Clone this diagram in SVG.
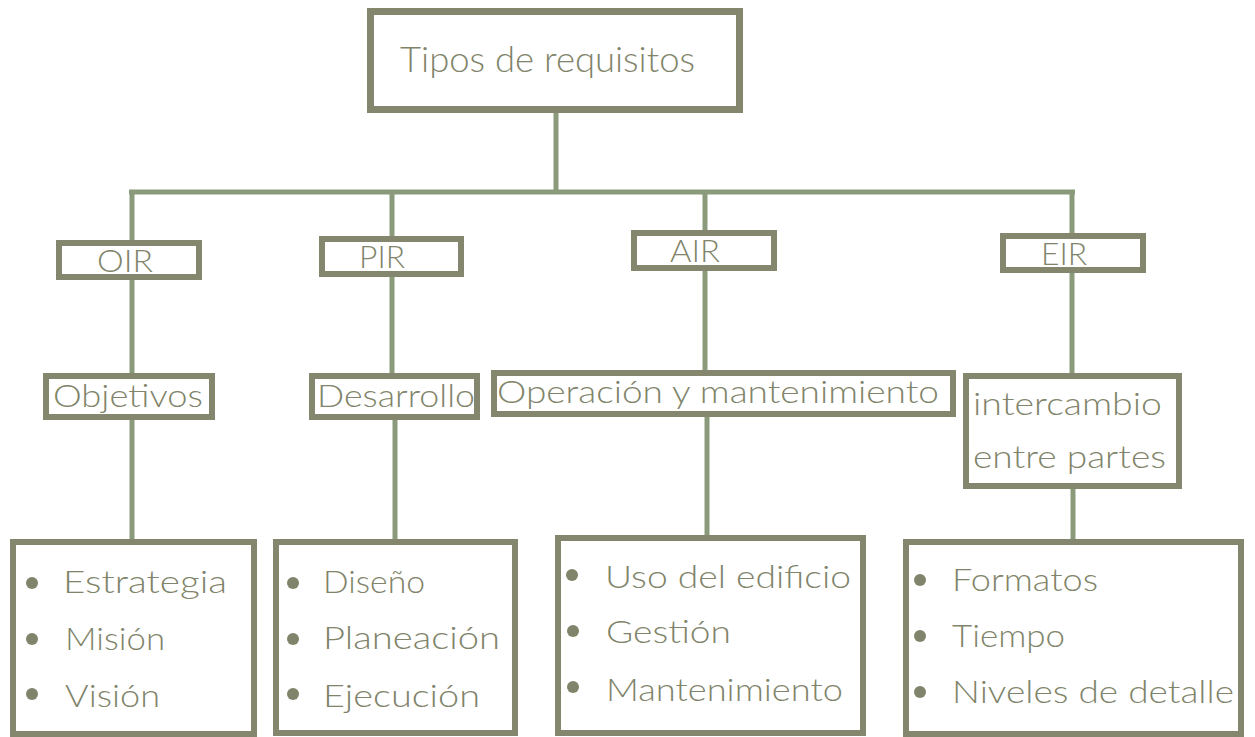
<svg xmlns="http://www.w3.org/2000/svg" width="1255" height="737" viewBox="0 0 1255 737">
<style>
.box{fill:#ffffff;stroke:#84876d;stroke-width:6}
.conn{stroke:#8a9a7b;stroke-width:5;fill:none}
.t{font-family:Lato,"Open Sans","Liberation Sans",sans-serif;font-weight:300;fill:#7f846a;font-size:32px}
.b{fill:#7f846a}
</style>
<rect width="1255" height="737" fill="#ffffff"/>
<g id="connectors">
<line class="conn" x1="556" y1="113" x2="556" y2="192"/>
<line class="conn" x1="129" y1="192" x2="1075" y2="192"/>
<line class="conn" x1="132" y1="190" x2="132" y2="240"/>
<line class="conn" x1="392" y1="190" x2="392" y2="236"/>
<line class="conn" x1="705" y1="190" x2="705" y2="230"/>
<line class="conn" x1="1072" y1="190" x2="1072" y2="233"/>
<line class="conn" x1="132" y1="280" x2="132" y2="373"/>
<line class="conn" x1="392" y1="277" x2="392" y2="373"/>
<line class="conn" x1="705" y1="271" x2="705" y2="370"/>
<line class="conn" x1="1072" y1="273" x2="1072" y2="373"/>
<line class="conn" x1="132" y1="420" x2="132" y2="539"/>
<line class="conn" x1="395" y1="420" x2="395" y2="539"/>
<line class="conn" x1="707" y1="417" x2="707" y2="535"/>
<line class="conn" x1="1073" y1="489" x2="1073" y2="539"/>
</g>
<g id="root">
<rect class="box" x="370.5" y="11.5" width="369" height="98" style="stroke-width:7"/>
<text class="t" x="400" y="72" style="font-size:35px" textLength="295" lengthAdjust="spacingAndGlyphs">Tipos de requisitos</text>
</g>
<g id="oir">
<rect class="box" x="59" y="243" width="140" height="34"/>
<text class="t" x="97" y="272" textLength="56" lengthAdjust="spacingAndGlyphs">OIR</text>
</g>
<g id="pir">
<rect class="box" x="322" y="239" width="139" height="35"/>
<text class="t" x="359" y="268" textLength="46" lengthAdjust="spacingAndGlyphs">PIR</text>
</g>
<g id="air">
<rect class="box" x="634" y="233" width="140" height="35"/>
<text class="t" x="670" y="262" textLength="50" lengthAdjust="spacingAndGlyphs">AIR</text>
</g>
<g id="eir">
<rect class="box" x="1003" y="236" width="140" height="34"/>
<text class="t" x="1041" y="265" textLength="46" lengthAdjust="spacingAndGlyphs">EIR</text>
</g>
<g id="objetivos">
<rect class="box" x="46" y="376" width="166" height="41"/>
<text class="t" x="53" y="407" textLength="150" lengthAdjust="spacingAndGlyphs">Objetivos</text>
</g>
<g id="desarrollo">
<rect class="box" x="312" y="376" width="165" height="41"/>
<text class="t" x="317" y="407" textLength="158" lengthAdjust="spacingAndGlyphs">Desarrollo</text>
</g>
<g id="operacion">
<rect class="box" x="494" y="373" width="459" height="41"/>
<text class="t" x="497" y="403" textLength="442" lengthAdjust="spacingAndGlyphs">Operación y mantenimiento</text>
</g>
<g id="intercambio">
<rect class="box" x="966" y="376" width="213" height="110"/>
<text class="t" x="973" y="415" textLength="189" lengthAdjust="spacingAndGlyphs">intercambio</text>
<text class="t" x="973" y="468" textLength="193" lengthAdjust="spacingAndGlyphs">entre partes</text>
</g>
<g id="list-oir">
<rect class="box" x="13" y="542" width="241" height="192"/>
<circle class="b" cx="32" cy="583" r="6"/>
<circle class="b" cx="32" cy="639" r="6"/>
<circle class="b" cx="32" cy="694" r="6"/>
<text class="t" x="63" y="593" textLength="164" lengthAdjust="spacingAndGlyphs">Estrategia</text>
<text class="t" x="65" y="650" textLength="100" lengthAdjust="spacingAndGlyphs">Misión</text>
<text class="t" x="65" y="707" textLength="95" lengthAdjust="spacingAndGlyphs">Visión</text>
</g>
<g id="list-pir">
<rect class="box" x="276" y="542" width="239" height="191"/>
<circle class="b" cx="293" cy="583" r="6"/>
<circle class="b" cx="293" cy="639" r="6"/>
<circle class="b" cx="293" cy="694" r="6"/>
<text class="t" x="323" y="593" textLength="102" lengthAdjust="spacingAndGlyphs">Diseño</text>
<text class="t" x="323" y="649" textLength="177" lengthAdjust="spacingAndGlyphs">Planeación</text>
<text class="t" x="323" y="707" textLength="157" lengthAdjust="spacingAndGlyphs">Ejecución</text>
</g>
<g id="list-air">
<rect class="box" x="558" y="538" width="305" height="195"/>
<circle class="b" cx="572" cy="575" r="6"/>
<circle class="b" cx="573" cy="631" r="6"/>
<circle class="b" cx="573" cy="687" r="6"/>
<text class="t" x="605" y="588" textLength="246" lengthAdjust="spacingAndGlyphs">Uso del edificio</text>
<text class="t" x="606" y="643" textLength="125" lengthAdjust="spacingAndGlyphs">Gestión</text>
<text class="t" x="606" y="701" textLength="237" lengthAdjust="spacingAndGlyphs">Mantenimiento</text>
</g>
<g id="list-eir">
<rect class="box" x="906" y="542" width="335" height="192"/>
<circle class="b" cx="920" cy="580" r="6"/>
<circle class="b" cx="920" cy="636" r="6"/>
<circle class="b" cx="920" cy="692" r="6"/>
<text class="t" x="952" y="591" textLength="146" lengthAdjust="spacingAndGlyphs">Formatos</text>
<text class="t" x="952" y="647" textLength="113" lengthAdjust="spacingAndGlyphs">Tiempo</text>
<text class="t" x="952" y="703" textLength="282" lengthAdjust="spacingAndGlyphs">Niveles de detalle</text>
</g>
</svg>
